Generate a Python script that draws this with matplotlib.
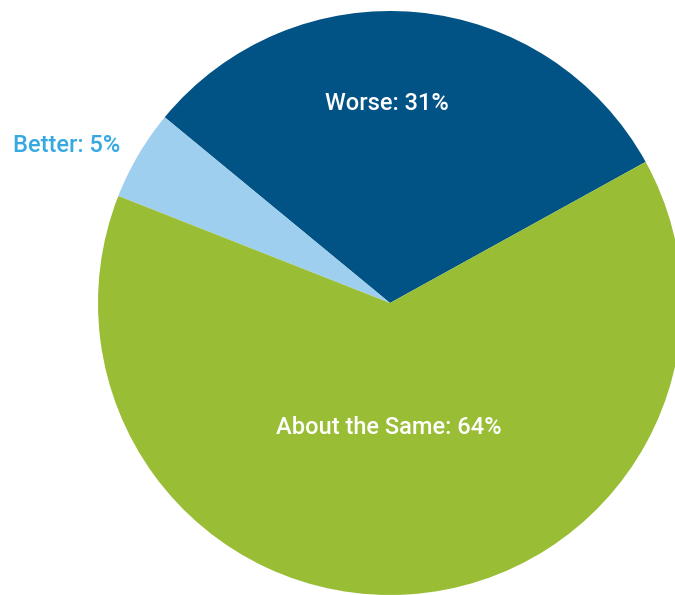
import matplotlib.pyplot as plt

labels = ['Worse', 'Better', 'About the Same']
values = [31, 5, 64]
colors = ['#005384', '#9fcfef', '#99bd34']

plt.rcParams['font.family'] = ['DejaVu Sans Condensed', 'Roboto', 'DejaVu Sans']

fig = plt.figure(figsize=(6.75, 5.95), dpi=100)
ax = fig.add_axes([0, 0, 1, 1])

# pie in pixel-like data coords so it can run off the right edge
ax.pie(values, colors=colors, startangle=28.9, counterclock=True,
       radius=292, center=(390, 292), wedgeprops=dict(linewidth=0))

txt = dict(fontsize=17, ha='center', va='center', fontweight='medium')
ax.text(387, 595 - 103, f'{labels[0]}: {values[0]}%', color='white', **txt)
ax.text(389, 595 - 428, f'{labels[2]}: {values[2]}%', color='white', **txt)
ax.text(67, 595 - 145, f'{labels[1]}: {values[1]}%', color='#36a9e1', **txt)

ax.set_xlim(0, 675)
ax.set_ylim(0, 595)
ax.set_aspect('equal')
ax.axis('off')

plt.savefig('out.png', dpi=100)
